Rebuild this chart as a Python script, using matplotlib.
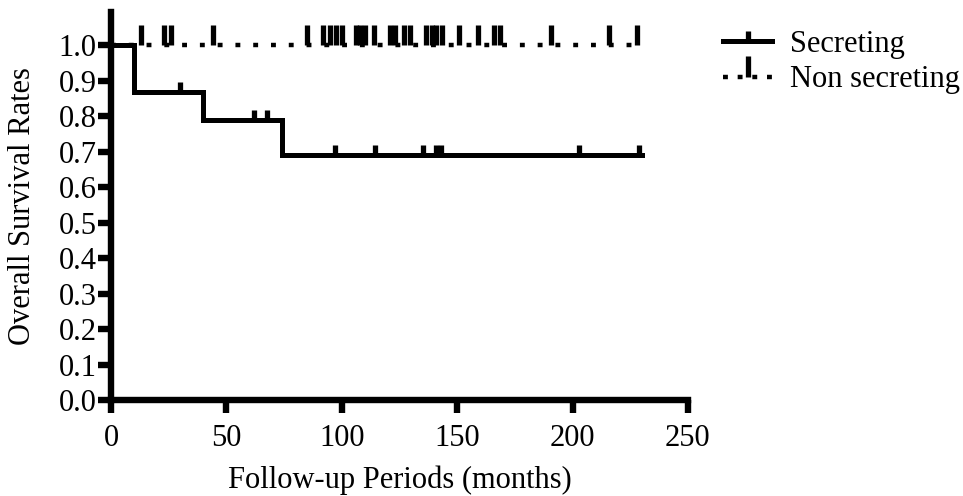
import matplotlib
matplotlib.use("Agg")
from matplotlib import pyplot as plt
from matplotlib.lines import Line2D
from matplotlib.path import Path
import numpy as np

plt.rcParams['font.family'] = ['Liberation Serif', 'DejaVu Serif']

# Kaplan-Meier steps (months, survival)
sec_times = [0, 10, 40, 74, 230]
sec_surv = [1.0, 0.867, 0.788, 0.690]
sec_censor = [30, 62, 67.5, 97, 114.5, 135, 141, 143, 203, 229]

non_times = [0, 229]
non_surv = [1.0]
non_censor = [13, 23, 26, 44, 85, 92, 95, 97.5, 100, 106, 108, 110, 114, 121, 123,
              127, 129.5, 136.5, 139, 141, 143.5, 151, 159, 166, 168.5, 190.5,
              216, 228]

x_ticks = [0, 50, 100, 150, 200, 250]
y_ticks = np.arange(0, 1.01, 0.1)

series_labels = ["Secreting", "Non secreting"]


def step_xy(times, surv):
    xs, ys = [], []
    for i, s in enumerate(surv):
        xs += [times[i], times[i + 1]]
        ys += [s, s]
    return xs, ys


def level_at(t, times, surv):
    idx = np.searchsorted(times, t, side='right') - 1
    idx = min(max(idx, 0), len(surv) - 1)
    return surv[idx]


fig = plt.figure(figsize=(9.63, 4.96), dpi=100)
ax = fig.add_axes([0.1153, 0.1935, 0.599, 0.782])

lw = 3.6
fs = 22
mark_w = 3.8
# non secreting: dotted line at 1.0 with tall censor marks
xs, ys = step_xy(non_times, non_surv)
ax.plot(xs, ys, color='black', lw=3.2, linestyle=(0, (1.1, 2.9)),
        solid_capstyle='butt', dash_capstyle='butt', zorder=3)
ny = [level_at(t, non_times, non_surv) for t in non_censor]
ax.vlines(non_censor, ny, np.array(ny) + 0.056, color='black', lw=mark_w, zorder=3)

# secreting: solid step line with small censor marks
xs, ys = step_xy(sec_times, sec_surv)
ax.plot(xs, ys, color='black', lw=lw, solid_joinstyle='miter', zorder=4)
sy = [level_at(t, sec_times, sec_surv) for t in sec_censor]
ax.vlines(sec_censor, sy, np.array(sy) + 0.028, color='black', lw=mark_w, zorder=4)

ax.set_xlim(0, 250)
ax.set_ylim(0, 1.093)
ax.set_xticks(x_ticks)
ax.set_yticks(y_ticks)
ax.set_yticklabels([f"{v:.1f}" for v in y_ticks])

for side in ['top', 'right']:
    ax.spines[side].set_visible(False)
for side in ['left', 'bottom']:
    ax.spines[side].set_linewidth(4.6)
ax.tick_params(axis='both', direction='out', length=9.5, width=4.6,
               labelsize=fs, pad=1)
ax.tick_params(axis='x', pad=8)

ax.set_xlabel("Follow-up Periods (months)", fontsize=fs, va='center')
ax.set_ylabel("Overall Survival Rates", fontsize=fs, va='center')
ax.xaxis.set_label_coords(0.5, -0.208)
ax.yaxis.set_label_coords(-0.154, 0.5)

# legend handles with an upward tick in the middle
up_tick = Path([(0, 0), (0, 1)])
h_sec = Line2D([], [], color='black', lw=lw, marker=up_tick, markersize=15,
               markeredgewidth=mark_w)
h_non = Line2D([], [], color='black', lw=3.2, linestyle=(0, (1.1, 2.2)),
               dash_capstyle='butt', marker=up_tick, markersize=30,
               markeredgewidth=mark_w)
fig.legend([h_sec, h_non], series_labels, loc='upper left',
           bbox_to_anchor=(0.751, 0.94), frameon=False, fontsize=fs,
           handlelength=1.6, handletextpad=0.6, labelspacing=0.22,
           borderpad=0, borderaxespad=0, numpoints=1)

fig.savefig("out.png", dpi=100)
